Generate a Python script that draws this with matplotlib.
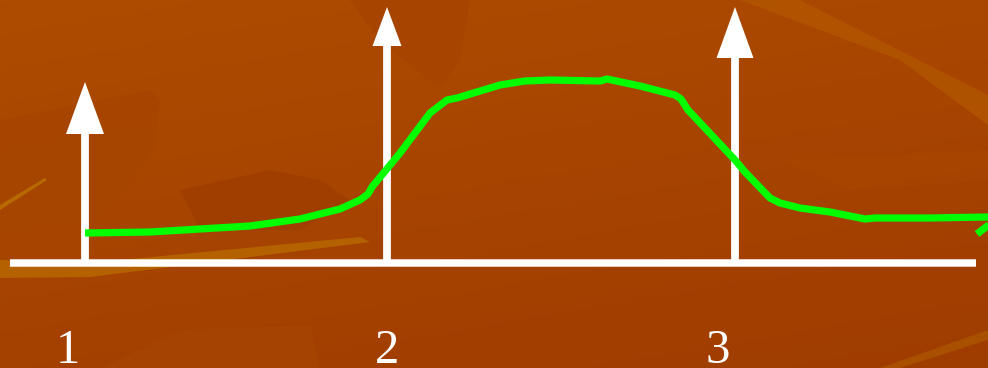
import numpy as np
import matplotlib.pyplot as plt

# impulse positions / heights (pixels above the baseline)
impulse_x = [85, 387, 735]
impulse_top = [181, 256, 256]
labels = ['1', '2', '3']
label_x = [68, 387, 718]

# green curve (x, height above baseline)
curve_x = [85, 150, 200, 250, 300, 340, 360, 368, 372, 400, 430, 447, 457, 500,
           525, 550, 600, 607, 640, 675, 681, 688, 735, 745, 770, 780, 800, 830,
           865, 875, 930, 988]
curve_y = [30, 31, 34, 37, 44, 54, 63, 69, 76, 110, 150, 163, 165, 178,
           182, 183, 182, 184, 177, 168, 164, 153, 103, 91, 65, 60, 55, 51,
           44, 45, 45, 46]
tail_x = [977, 990]
tail_y = [29, 39]

head_w = [38, 29, 37]
head_h = [52, 39, 51]

fig = plt.figure(figsize=(9.88, 3.68), dpi=100)
ax = fig.add_axes([0, 0, 1, 1])
ax.set_xlim(0, 988)
ax.set_ylim(-105, 263)
ax.axis('off')

# background gradient
gy, gx = np.mgrid[0:1:100j, 0:1:100j]
t = 0.55 * gy + 0.25 * gx
c0 = np.array([174, 76, 0]) / 255
c1 = np.array([156, 56, 0]) / 255
img = c0[None, None, :] * (1 - t[..., None]) + c1[None, None, :] * t[..., None]
ax.imshow(img, extent=[0, 988, -105, 263], aspect='auto', zorder=0)

def py(v):
    return 263 - np.asarray(v)

# a few faceted shapes in the background
ax.fill([350, 470, 460, 440, 380], py([0, 0, 60, 90, 40]), color='#A64400', zorder=1, lw=0)
ax.fill([0, 150, 160, 155, 100, 0], py([120, 90, 100, 150, 220, 230]), color='#A64500', zorder=1, lw=0, alpha=0.7)
ax.fill([180, 270, 320, 350, 300, 200], py([190, 170, 180, 200, 230, 230]), color='#9E3C00', zorder=1, lw=0, alpha=0.7)
ax.fill([740, 800, 988, 988, 900], py([0, 0, 95, 125, 60]), color='#B35800', zorder=1, lw=0, alpha=0.7)
ax.fill([0, 100, 360, 370, 90, 0], py([260, 262, 237, 242, 277, 278]), color='#B46200', zorder=1, lw=0)
ax.fill([0, 45, 47, 0], py([205, 178, 180, 210]), color='#B86A00', zorder=1, lw=0)
ax.fill([100, 180, 310, 320, 130], py([368, 330, 325, 368, 368]), color='#A44400', zorder=1, lw=0)
ax.fill([880, 988, 988, 900], py([368, 330, 340, 368]), color='#A85000', zorder=1, lw=0)
ax.fill([780, 988, 988, 850], py([160, 150, 180, 190]), color='#A84600', zorder=1, lw=0, alpha=0.6)

# baseline
ax.plot([10, 976], [0, 0], color='white', lw=5.4, solid_capstyle='butt', zorder=3)

# impulses
for x, top, w, h in zip(impulse_x, impulse_top, head_w, head_h):
    ax.plot([x, x], [0, top - h + 2], color='white', lw=5.6, solid_capstyle='butt', zorder=3)
    ax.fill([x - w / 2, x + w / 2, x], [top - h, top - h, top], color='white', lw=0, zorder=3)

# curve
ax.plot(curve_x, curve_y, color='#00FF00', lw=5.2, solid_capstyle='butt',
        solid_joinstyle='round', zorder=4)
ax.plot(tail_x, tail_y, color='#00FF00', lw=5.2, solid_capstyle='butt', zorder=4)

for x, s in zip(label_x, labels):
    ax.text(x, -100, s, color='white', fontsize=35, family='Liberation Serif',
            ha='center', va='baseline', zorder=5)

fig.savefig('out.png', dpi=100)
